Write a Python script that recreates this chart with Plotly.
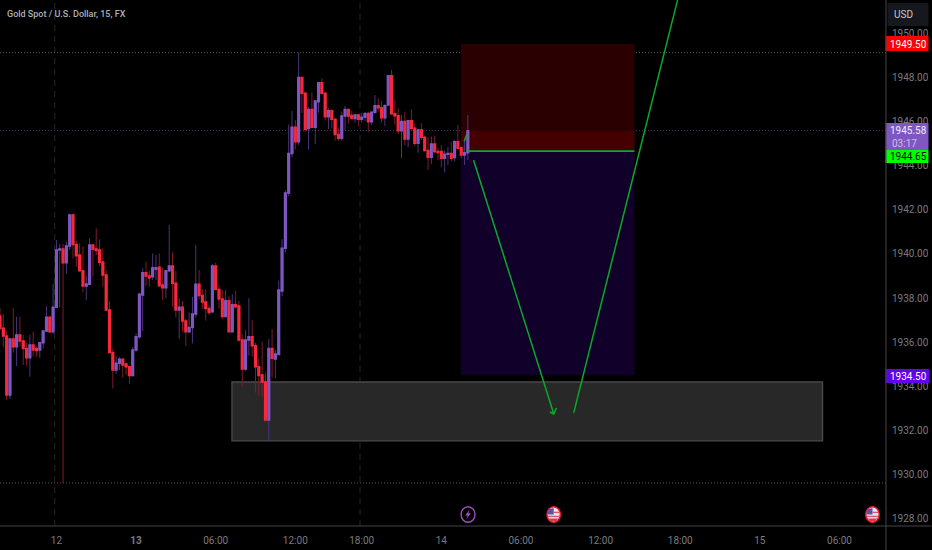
import plotly.graph_objects as go

opens = [1937.19,1936.63,1936.28,1933.61,1936.15,1935.80,1936.33,1936.06,1935.72,1935.30,1935.88,1935.72,1935.65,1935.98,1936.51,1937.13,1936.48,1937.58,1940.18,1940.22,
1939.60,1940.36,1941.76,1940.43,1939.95,1939.24,1938.55,1938.62,1940.40,1940.22,1940.18,1939.63,1939.04,1937.46,1935.53,1934.74,1935.05,1935.23,1935.02,1934.89,
1934.49,1935.65,1936.25,1938.14,1939.15,1939.00,1938.97,1939.30,1939.39,1938.59,1938.47,1939.24,1939.45,1938.67,1937.46,1937.58,1936.96,1936.48,1936.67,1937.28,
1938.62,1938.11,1937.82,1937.53,1937.38,1939.45,1938.39,1937.96,1937.16,1937.88,1936.48,1937.70,1937.64,1936.10,1934.79,1936.10,1936.25,1935.84,1934.89,1934.52,
1934.20,1932.48,1935.72,1935.24,1935.45,1938.32,1940.25,1942.76,1944.55,1945.73,1945.08,1947.99,1947.27,1945.68,1946.54,1945.73,1946.89,1947.75,1947.27,1946.21,
1946.48,1946.09,1945.41,1945.23,1946.24,1946.54,1946.27,1946.13,1946.29,1946.10,1946.18,1946.36,1945.98,1946.41,1946.71,1946.62,1946.16,1946.74,1948.06,1946.34,
1946.25,1945.58,1945.99,1945.20,1946.03,1945.69,1945.01,1945.61,1945.28,1944.68,1944.37,1944.98,1944.63,1944.63,1944.33,1944.51,1944.55,1944.36,1945.08,1944.81,
1944.48,1944.58]
highs = [1937.54,1937.28,1936.52,1936.15,1937.54,1937.16,1937.16,1936.33,1935.98,1936.33,1936.48,1935.80,1936.03,1936.51,1937.64,1937.19,1938.64,1940.63,1940.45,1940.45,
1940.55,1941.84,1941.84,1940.60,1940.48,1940.33,1939.00,1940.70,1940.42,1941.16,1940.66,1940.25,1939.27,1937.87,1935.72,1935.35,1935.32,1935.27,1935.05,1934.94,
1935.80,1936.40,1938.25,1939.35,1939.65,1939.24,1940.02,1939.95,1940.02,1939.39,1939.27,1941.31,1940.07,1939.22,1937.99,1937.87,1937.08,1937.35,1938.06,1940.40,
1939.27,1938.39,1938.39,1937.69,1939.54,1939.60,1938.59,1938.36,1938.36,1938.09,1938.18,1938.33,1937.87,1936.37,1936.55,1937.99,1937.00,1935.98,1935.27,1936.03,
1934.62,1936.15,1936.60,1935.65,1938.79,1940.66,1942.89,1945.86,1946.47,1946.06,1949.11,1948.02,1947.30,1946.66,1947.30,1946.96,1947.77,1947.94,1947.30,1946.59,
1946.54,1946.13,1945.68,1946.44,1946.69,1946.56,1946.48,1946.33,1946.33,1946.39,1946.39,1946.44,1946.44,1947.19,1947.04,1946.93,1946.78,1948.08,1948.33,1946.97,
1946.59,1946.29,1946.44,1946.05,1946.55,1945.91,1945.64,1945.91,1945.34,1945.28,1945.31,1945.34,1944.78,1944.93,1944.68,1944.83,1945.08,1945.16,1945.84,1944.89,
1945.23,1946.29]
lows = [1936.55,1935.77,1933.39,1933.43,1935.53,1934.92,1935.80,1934.97,1934.94,1934.44,1935.35,1935.35,1935.29,1935.72,1936.48,1936.43,1936.37,1937.55,1937.58,1929.63,
1939.09,1940.18,1939.80,1939.42,1939.20,1938.25,1937.91,1938.59,1938.97,1939.95,1939.45,1938.52,1937.43,1935.50,1933.91,1934.56,1934.74,1934.40,1934.52,1934.11,
1934.47,1935.57,1936.18,1936.51,1938.55,1938.52,1938.82,1938.82,1938.51,1937.91,1937.99,1939.19,1937.61,1937.13,1936.15,1936.48,1935.83,1936.43,1935.95,1937.11,
1937.96,1937.53,1936.98,1937.23,1937.35,1938.36,1937.53,1937.04,1937.13,1936.46,1936.46,1937.55,1936.08,1933.99,1934.71,1935.39,1935.35,1933.72,1933.58,1933.53,
1932.36,1931.53,1934.40,1934.37,1935.44,1938.09,1940.05,1942.62,1944.37,1944.73,1944.93,1946.39,1945.53,1944.73,1945.70,1944.97,1946.39,1947.19,1946.03,1945.65,
1945.68,1945.12,1945.11,1945.11,1945.58,1945.91,1946.12,1945.94,1945.79,1945.94,1946.01,1945.53,1945.83,1946.33,1946.44,1945.95,1945.79,1946.71,1946.32,1945.84,
1945.43,1944.33,1944.93,1944.83,1945.64,1944.86,1944.58,1945.16,1944.63,1943.80,1944.07,1944.55,1944.25,1943.92,1943.68,1944.03,1944.18,1944.18,1944.76,1944.33,
1944.03,1944.25]
closes = [1936.63,1936.28,1933.61,1936.15,1935.80,1936.33,1936.06,1935.72,1935.30,1935.88,1935.65,1935.62,1935.98,1936.51,1937.13,1936.48,1937.58,1940.18,1940.22,1939.60,
1940.36,1941.76,1940.43,1939.92,1939.24,1938.55,1938.64,1940.40,1940.21,1940.15,1939.62,1939.04,1937.46,1935.53,1934.74,1935.05,1935.23,1934.97,1934.89,1934.49,
1935.65,1936.25,1938.17,1939.15,1939.00,1938.92,1939.37,1939.37,1938.56,1938.47,1939.24,1939.45,1938.67,1937.46,1937.58,1936.96,1936.48,1936.67,1937.28,1938.62,
1938.11,1937.82,1937.53,1937.35,1939.45,1938.39,1937.96,1937.16,1937.88,1936.48,1937.70,1937.61,1936.10,1934.79,1936.10,1936.25,1935.84,1934.89,1934.49,1934.20,
1932.48,1935.72,1935.27,1935.47,1938.36,1940.25,1942.76,1944.55,1945.73,1945.08,1947.99,1947.27,1945.64,1946.54,1945.73,1946.92,1947.75,1947.27,1946.21,1946.48,
1946.09,1945.41,1945.23,1946.24,1946.54,1946.24,1946.13,1946.29,1946.10,1946.18,1946.36,1945.98,1946.41,1946.71,1946.62,1946.16,1946.71,1948.06,1946.34,1946.25,
1945.58,1945.99,1945.20,1946.03,1945.69,1945.01,1945.61,1945.28,1944.68,1944.37,1944.98,1944.63,1944.59,1944.33,1944.51,1944.55,1944.33,1945.08,1944.78,1944.48,
1944.58,1945.58]
bars = list(range(len(opens)))

tick_bars = [17, 41, 65, 89, 109, 133, 157, 181, 205, 229, 253]
tick_labels = ["12", "<b>13</b>", "06:00", "12:00", "18:00", "14", "06:00", "12:00", "18:00", "15", "06:00"]
price_ticks = [1928, 1930, 1932, 1934, 1936, 1938, 1940, 1942, 1944, 1946, 1948, 1950]

stop_price, entry_price, target_price, last_price = 1949.50, 1944.65, 1934.50, 1945.58
high_line, low_line = 1949.11, 1929.63
pos_start, pos_end = 138.9, 191.2
zone_start, zone_end, zone_top, zone_bottom = 69.9, 247.9, 1934.20, 1931.53
session_bars = [16.5, 108.5]
path_down_x = [142.7, 166.9, 165.7, 166.9, 167.7]
path_down_y = [1944.25, 1932.75, 1932.84, 1932.75, 1933.02]
path_up_x = [172.9, 204.2]
path_up_y = [1932.80, 1951.49]
mini_x = [139.9, 140.7]
mini_y = [1945.10, 1945.40]

BG = "#000000"
UP, DOWN = "#7e57c2", "#f7283c"
UP_W, DOWN_W = "#4a3578", "#7f1c26"
GREEN = "#0ca82a"
TXT = "#7a7b80"
FONT = "Roboto"
W, H, PW, PH = 932, 550, 886.5, 526

def fx(px): return px / PW
def fy(py): return 1 - py / PH

fig = go.Figure()
# wicks
fig.add_trace(go.Candlestick(x=bars, open=opens, high=highs, low=lows, close=closes,
    whiskerwidth=0, increasing=dict(line=dict(color=UP_W, width=1), fillcolor=UP_W),
    decreasing=dict(line=dict(color=DOWN_W, width=1), fillcolor=DOWN_W), hoverinfo="skip"))
# bodies
fig.add_trace(go.Candlestick(x=bars, open=opens, close=closes,
    high=[max(o, c) for o, c in zip(opens, closes)], low=[min(o, c) for o, c in zip(opens, closes)],
    whiskerwidth=0, increasing=dict(line=dict(color=UP, width=1.5), fillcolor=UP),
    decreasing=dict(line=dict(color=DOWN, width=1.5), fillcolor=DOWN), hoverinfo="skip"))
for xs, ys, w in [(path_down_x, path_down_y, 1.5), (path_up_x, path_up_y, 1.5), (mini_x, mini_y, 1.5)]:
    fig.add_trace(go.Scatter(x=xs, y=ys, mode="lines", line=dict(color=GREEN, width=w), hoverinfo="skip"))

shapes = []
def rect(x0, x1, y0, y1, fill, line=None, lw=0, layer="below"):
    shapes.append(dict(type="rect", xref="x", yref="y", x0=x0, x1=x1, y0=y0, y1=y1, fillcolor=fill,
                       line=dict(color=line or fill, width=lw), layer=layer))
rect(pos_start, pos_end, entry_price, stop_price, "#2b0000")
rect(pos_start, pos_end, entry_price, last_price, "#440000")
rect(pos_start, pos_end, target_price, entry_price, "#10002a")
rect(zone_start, zone_end, zone_bottom, zone_top, "#282828", "#4a4a4a", 1.3)
for b in session_bars:
    shapes.append(dict(type="line", xref="x", yref="paper", x0=b, x1=b, y0=0, y1=1, layer="below",
                       line=dict(color="#26262a", width=1, dash="6px,5px")))
for p, c in [(high_line, "#55555a"), (low_line, "#55555a"), (last_price, "#4a3578")]:
    shapes.append(dict(type="line", xref="paper", yref="y", x0=0, x1=1, y0=p, y1=p, layer="below",
                       line=dict(color=c, width=1, dash="1px,2px")))
shapes.append(dict(type="line", xref="x", yref="y", x0=140.5, x1=pos_end, y0=entry_price, y1=entry_price,
                   line=dict(color=GREEN, width=1.8), layer="above"))

def pbox(x0, x1, y0, y1, fill, r=None):
    shapes.append(dict(type="rect", xref="paper", yref="paper", x0=fx(x0), x1=fx(x1), y0=fy(y1), y1=fy(y0),
                       fillcolor=fill, line=dict(width=0), layer="above"))
pbox(886, 929, 36, 51, "#ff0000")
pbox(886, 929, 123, 150, "#7e57c2")
pbox(886, 929, 150, 163, "#00ff00")
pbox(886, 930, 369, 383, "#6200ea")
pbox(888, 929, 3, 26, "#16181d")
# panel separators
shapes.append(dict(type="line", xref="paper", yref="paper", x0=fx(886.5), x1=fx(886.5), y0=fy(0), y1=fy(550),
                   line=dict(color="#44444c", width=1), layer="above"))
shapes.append(dict(type="line", xref="paper", yref="paper", x0=0, x1=fx(932), y0=fy(526), y1=fy(526),
                   line=dict(color="#44444c", width=1), layer="above"))

def ellipse(cx, cy, rx, ry, fill, line, lw):
    shapes.append(dict(type="circle", xref="paper", yref="paper", x0=fx(cx-rx), x1=fx(cx+rx), y0=fy(cy+ry), y1=fy(cy-ry),
                       fillcolor=fill, line=dict(color=line, width=lw), layer="above"))
def path(pts, fill):
    d = "M" + " L".join(f"{fx(x):.5f},{fy(y):.5f}" for x, y in pts) + " Z"
    shapes.append(dict(type="path", xref="paper", yref="paper", path=d, fillcolor=fill, line=dict(width=0), layer="above"))

ellipse(468.3, 514.5, 7, 7.8, "#000000", "#9a4fb8", 1.4)
path([(470, 509.5), (465.5, 515.5), (468, 515.5), (466.5, 519.5), (471, 513.3), (468.6, 513.3)], "#a64fc8")
for cx, cy in [(554, 514.5), (873, 514.5)]:
    ellipse(cx, cy, 6.7, 7.8, "#e8e4f0", "#e8172c", 1.5)
    path([(cx-5.2, cy-5), (cx, cy-6.6), (cx, cy), (cx-6, cy)], "#5b50a8")
    path([(cx, cy-2.8), (cx+5.8, cy-2.8), (cx+5.8, cy-1.4), (cx, cy-1.4)], "#d85a6a")
    path([(cx-5.8, cy+1.2), (cx+5.8, cy+1.2), (cx+5.8, cy+2.6), (cx-5.8, cy+2.6)], "#d85a6a")
    path([(cx-4.8, cy+4), (cx+4.8, cy+4), (cx+2.5, cy+6.4), (cx-2.5, cy+6.4)], "#e0364a")

def label(px, py, text, color, size=10, anchor="center", weight=None):
    fig.add_annotation(xref="paper", yref="paper", x=fx(px), y=fy(py), text=text, showarrow=False, xanchor=anchor,
                       yanchor="middle", font=dict(family=FONT, size=size, color=color, weight=weight or 400), borderpad=0)
label(6, 14, "Gold Spot / U.S. Dollar, 15, FX", "#aeb0b8", 9, "left", 500)
label(904, 14.5, "USD", "#c8c9cf", 10)
label(909, 44, "1949.50", "#ffffff", 10)
label(909, 130.5, "1945.58", "#f0ecf8", 10)
label(892, 143, "03:17", "#cdbfe8", 10, "left")
label(909, 157, "1944.65", "#000000", 10)
label(909, 376, "1934.50", "#ffffff", 10)

fig.update_layout(
    width=W, height=H, paper_bgcolor=BG, plot_bgcolor=BG, showlegend=False, hovermode=False,
    margin=dict(l=0, r=W - PW, t=0, b=H - PH), shapes=shapes,
    xaxis=dict(range=[0, PW / 3.32], rangeslider=dict(visible=False), showgrid=False, zeroline=False, showline=False,
               tickmode="array", tickvals=tick_bars, ticktext=tick_labels, ticks="outside", ticklen=5, tickcolor=BG,
               tickfont=dict(family=FONT, size=10, color=TXT)),
    yaxis=dict(range=[1927.68, 1951.494], side="right", showgrid=False, zeroline=False, showline=False,
               tickmode="array", tickvals=price_ticks, tickformat=".2f", ticks="outside", ticklen=3, tickcolor=BG,
               tickfont=dict(family=FONT, size=10, color=TXT)),
)
fig.write_html("out.html", config={"displayModeBar": False},
               post_script="document.body.style.margin='0';document.body.style.background='#000';document.body.style.overflow='hidden';")
